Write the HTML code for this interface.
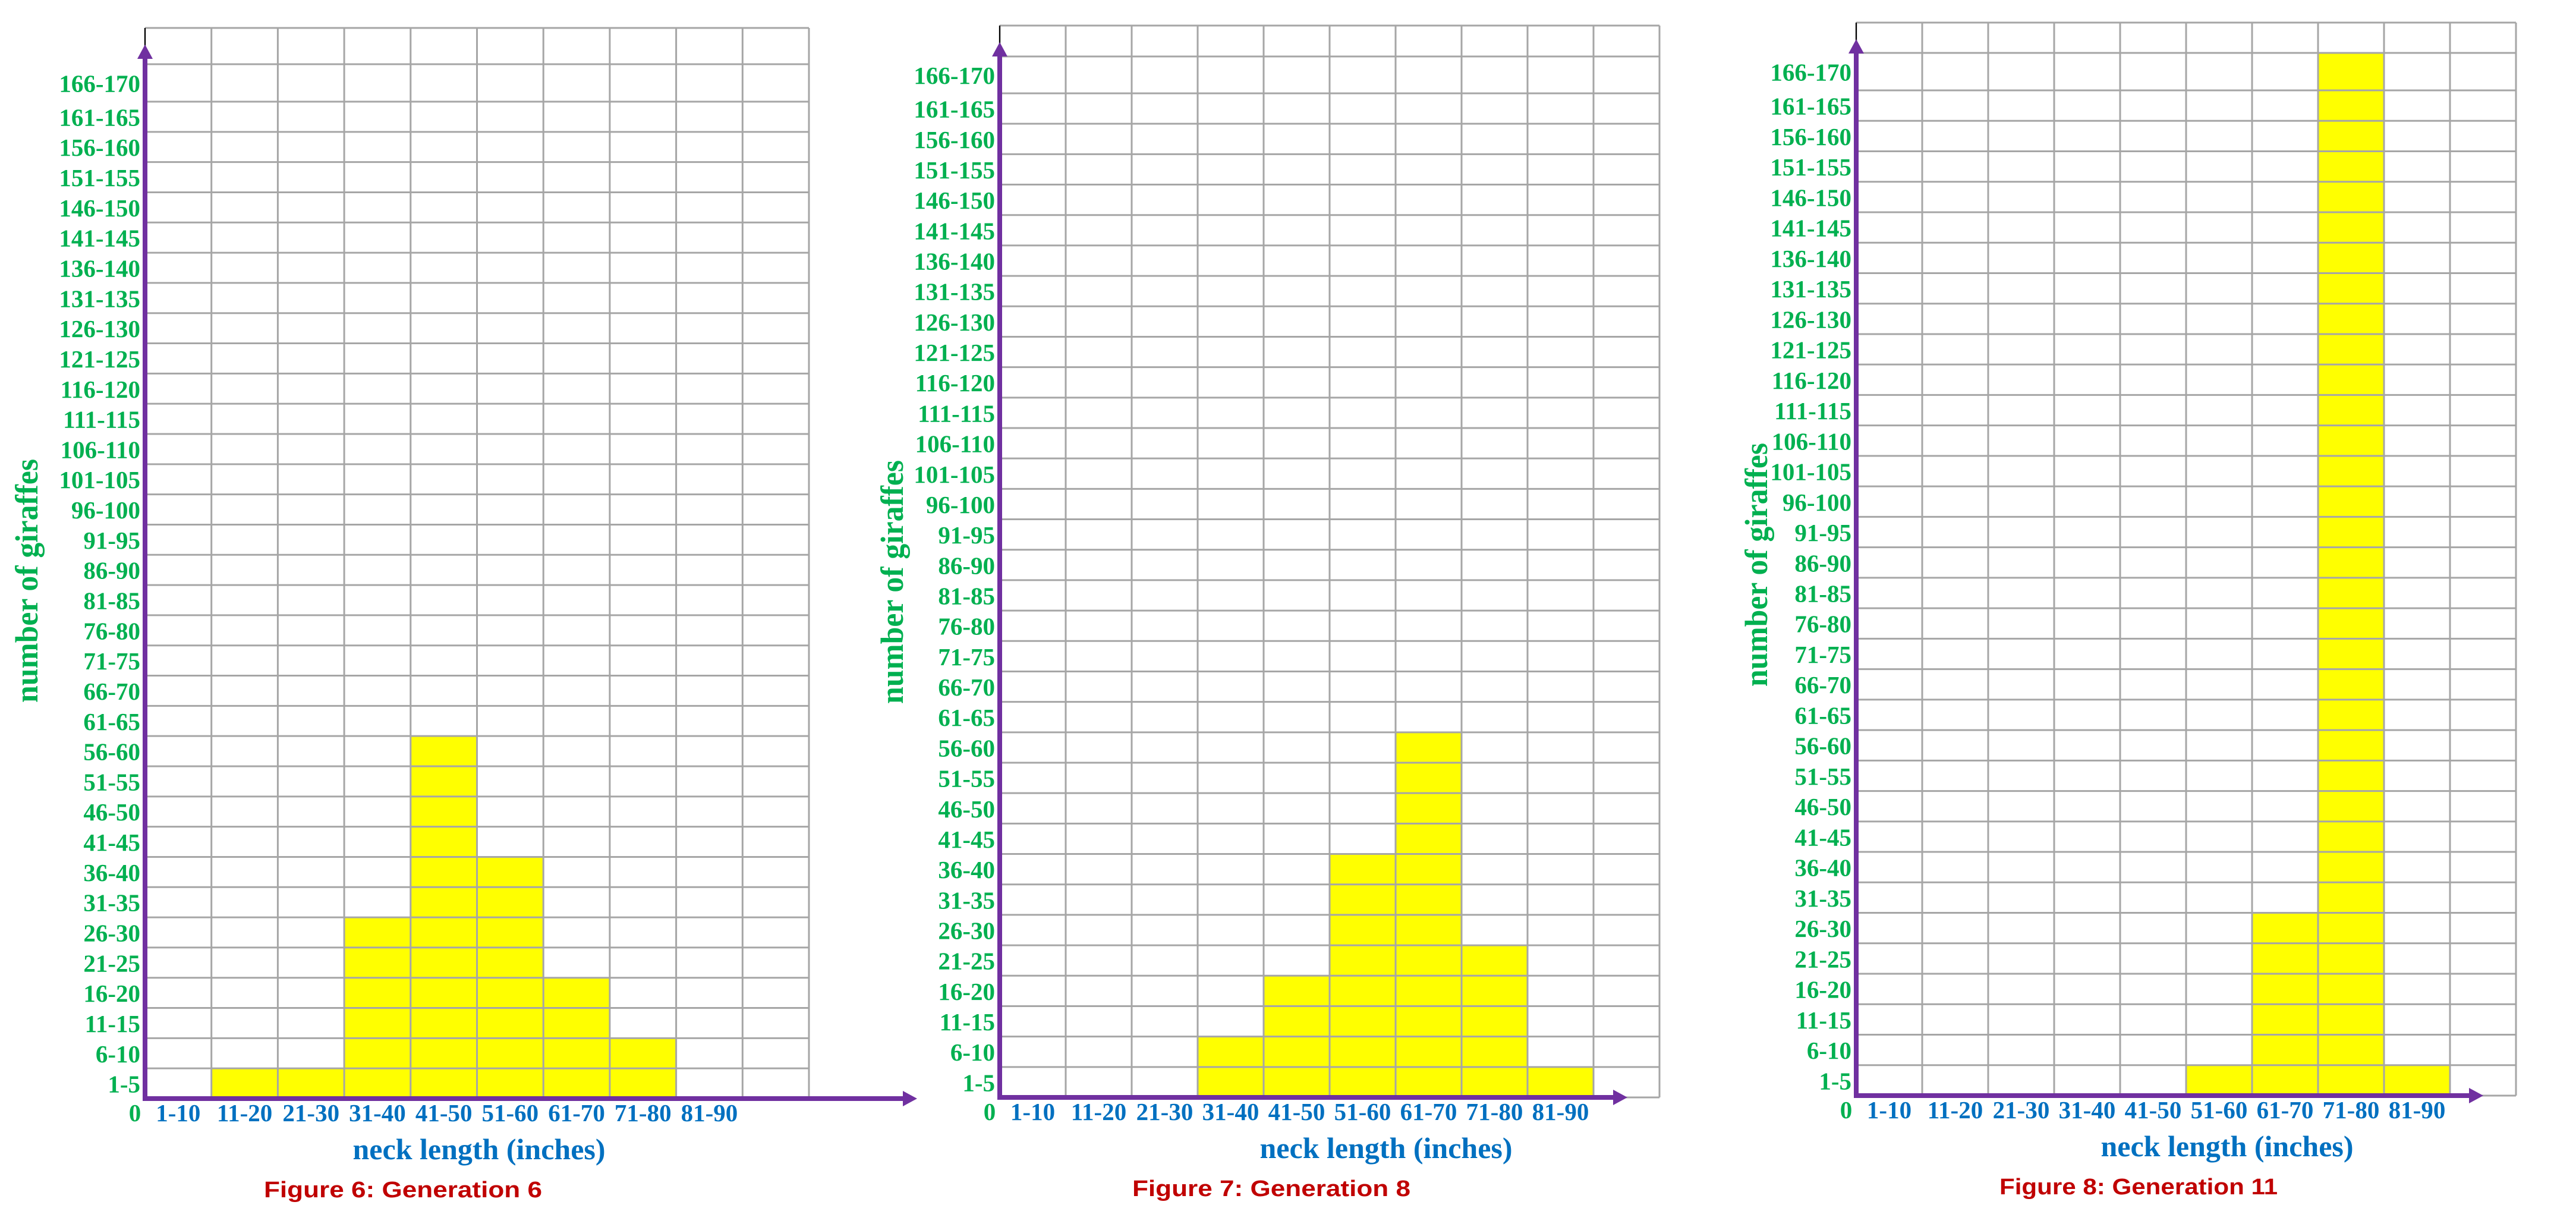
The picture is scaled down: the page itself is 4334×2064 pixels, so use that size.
<!DOCTYPE html>
<html><head><meta charset="utf-8">
<style>
html,body{margin:0;padding:0;background:#fff;}
svg{display:block;}
</style></head>
<body>
<svg id="s" xmlns="http://www.w3.org/2000/svg" width="4334" height="2064" viewBox="0 0 4334 2064"></svg>
<script>
var s=document.getElementById('s');
var ns='http://www.w3.org/2000/svg';
function el(t,a,txt){var e=document.createElementNS(ns,t);for(var k in a)e.setAttribute(k,a[k]);if(txt!==undefined)e.textContent=txt;s.appendChild(e);return e;}
var charts=[
 {X:244,W:111.7,T:47,L2:108,L3:171,B:1848,tip:1299,bars:[0,1,1,6,12,8,4,2,0,0],cap:"Figure 6: Generation 6",capX:434,nlX:562,ytX:-199,ytY:977},
 {X:1682,W:111,T:43,L2:95,L3:157,B:1846,tip:1056,bars:[0,0,0,2,4,8,12,5,1,0],cap:"Figure 7: Generation 8",capX:457,nlX:650,ytX:-181,ytY:979},
 {X:3123,W:111,T:38,L2:89,L3:152,B:1843,tip:1055,bars:[0,0,0,0,0,1,6,34,1,0],cap:"Figure 8: Generation 11",capX:475,nlX:624,ytX:-168,ytY:950}
];
var xl=["1-10","11-20","21-30","31-40","41-50","51-60","61-70","71-80","81-90"];
charts.forEach(function(c){
  var rh=(c.B-c.L3)/33;
  var lines=[c.T,c.L2];
  for(var i=0;i<=33;i++)lines.push(c.L3+i*rh);
  function rowTop(r){return lines[lines.length-1-r-1];}
  var R=c.X+10*c.W;
  c.bars.forEach(function(n,i){
    if(n>0){var top=rowTop(n-1);el('rect',{x:c.X+i*c.W,y:top,width:c.W,height:c.B-top,fill:'#ffff00'});}
  });
  lines.forEach(function(y){el('line',{x1:c.X,y1:y,x2:R,y2:y,stroke:'#a6a6a6','stroke-width':3});});
  for(var i=0;i<=10;i++){var x=c.X+i*c.W;el('line',{x1:x,y1:c.T,x2:x,y2:c.B,stroke:'#a6a6a6','stroke-width':3});}
  el('line',{x1:c.X,y1:c.T,x2:c.X,y2:c.T+30,stroke:'#000','stroke-width':2});
  el('line',{x1:c.X,y1:c.B,x2:c.X,y2:c.T+50,stroke:'#7030a0','stroke-width':8});
  el('polygon',{points:(c.X-13)+','+(c.T+52)+' '+(c.X+13)+','+(c.T+52)+' '+c.X+','+(c.T+28),fill:'#7030a0'});
  el('line',{x1:c.X-4,y1:c.B,x2:c.X+c.tip-22,y2:c.B,stroke:'#7030a0','stroke-width':8});
  el('polygon',{points:(c.X+c.tip-24)+','+(c.B-13)+' '+(c.X+c.tip-24)+','+(c.B+13)+' '+(c.X+c.tip)+','+c.B,fill:'#7030a0'});
  for(var r=0;r<34;r++){
    var top=rowTop(r),bot=lines[lines.length-1-r];
    var lab=(r*5+1)+'-'+(r*5+5);
    el('text',{x:c.X-8,y:(top+bot)/2+15,'text-anchor':'end','font-family':'Liberation Serif, serif','font-weight':'bold','font-size':41,fill:'#00b050'},lab);
  }
  el('text',{x:c.X-17,y:c.B+38,'text-anchor':'middle','font-family':'Liberation Serif, serif','font-weight':'bold','font-size':41,fill:'#00b050'},'0');
  xl.forEach(function(t,i){
    el('text',{x:c.X+(i+0.5)*c.W,y:c.B+38,'text-anchor':'middle','font-family':'Liberation Serif, serif','font-weight':'bold','font-size':41,fill:'#0070c0'},t);
  });
  el('text',{x:c.X+c.nlX,y:c.B+102,'text-anchor':'middle','font-family':'Liberation Serif, serif','font-weight':'bold','font-size':50,fill:'#0070c0'},'neck length (inches)');
  el('text',{x:c.X+c.capX,y:c.B+166,'text-anchor':'middle','font-family':'Liberation Sans, sans-serif','font-weight':'bold','font-size':38,fill:'#c00000',textLength:468,lengthAdjust:'spacingAndGlyphs'},c.cap);
  el('text',{x:0,y:0,'text-anchor':'middle','font-family':'Liberation Serif, serif','font-weight':'bold','font-size':54,fill:'#00b050',textLength:410,lengthAdjust:'spacingAndGlyphs',transform:'translate('+(c.X+c.ytX+18)+','+c.ytY+') rotate(-90)'},'number of giraffes');
});
</script>
</body></html>
